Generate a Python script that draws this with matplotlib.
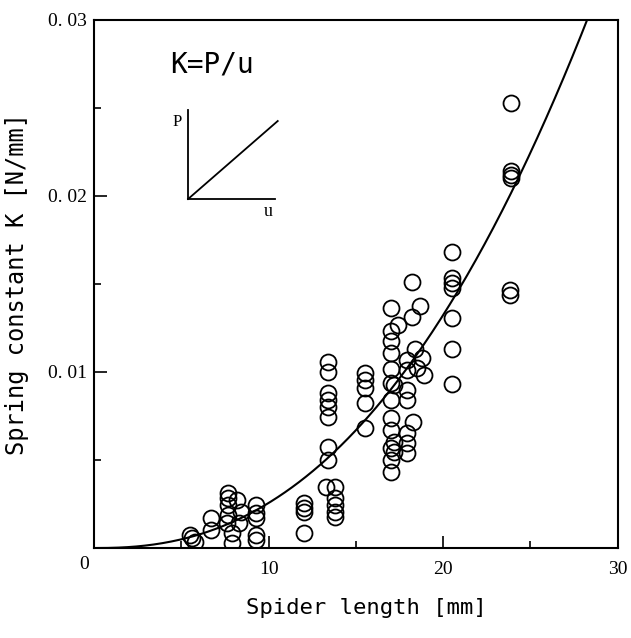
import numpy as np
import matplotlib.pyplot as plt
import matplotlib.transforms as mtransforms
from matplotlib.ticker import MultipleLocator

plt.rcParams['font.family'] = ['DejaVu Sans Mono']

# spider length [mm] and spring constant K [N/mm]
length = [5.5, 5.6, 5.8,
          6.7, 6.7,
          7.7, 7.7, 7.7, 7.7, 7.6, 7.9, 7.9,
          8.2, 8.4, 8.3,
          9.3, 9.3, 9.3, 9.3, 9.3,
          12.0, 12.0, 12.0, 12.0,
          13.4, 13.4, 13.4, 13.4, 13.4, 13.4, 13.4, 13.4,
          13.3, 13.8, 13.8, 13.8, 13.8, 13.8,
          15.5, 15.5, 15.5, 15.5, 15.5,
          17.0, 17.0, 17.0, 17.0, 17.0, 17.0, 17.0, 17.0, 17.0, 17.0, 17.0, 17.0,
          17.4, 17.2, 17.2, 17.2,
          17.9, 17.9, 17.9, 17.9, 17.9, 17.9, 17.9,
          18.2, 18.7, 18.2, 18.4, 18.8, 18.5, 18.9, 18.3,
          20.5, 20.5, 20.5, 20.5, 20.5, 20.5, 20.5,
          23.9, 23.9, 23.9, 23.9, 23.8, 23.8]
spring_k = [0.00074, 0.00055, 0.00036,
            0.00169, 0.00102,
            0.00311, 0.00282, 0.00244, 0.00188, 0.00140, 0.00083, 0.00027,
            0.00273, 0.00206, 0.00140,
            0.00244, 0.00197, 0.00170, 0.00074, 0.00045,
            0.00254, 0.00226, 0.00206, 0.00087,
            0.01059, 0.01002, 0.00879, 0.00841, 0.00803, 0.00746, 0.00576, 0.00500,
            0.00348, 0.00348, 0.00282, 0.00244, 0.00206, 0.00178,
            0.00993, 0.00955, 0.00907, 0.00822, 0.00680,
            0.01364, 0.01231, 0.01174, 0.01108, 0.01014, 0.00940, 0.00841, 0.00739,
            0.00670, 0.00568, 0.00500, 0.00434,
            0.01267, 0.00926, 0.00604, 0.00547,
            0.01068, 0.01011, 0.00898, 0.00841, 0.00652, 0.00595, 0.00538,
            0.01513, 0.01375, 0.01314, 0.01129, 0.01078, 0.01021, 0.00983, 0.00718,
            0.01684, 0.01532, 0.01504, 0.01476, 0.01305, 0.01129, 0.00932,
            0.02530, 0.02140, 0.02120, 0.02100, 0.01466, 0.01438]

# fitted curve K = a * (L/10)^n
fit_a = 0.00256
fit_n = 2.37

xticks = [0, 10, 20, 30]
xtick_labels = ['0', '10', '20', '30']
yticks = [0.01, 0.02, 0.03]
ytick_labels = ['0. 01', '0. 02', '0. 03']

# inset sketch of load P vs displacement u
sketch_u = [0, 1.03]
sketch_p = [0, 0.88]

fig = plt.figure(figsize=(6.31, 6.38), dpi=100)
ax = fig.add_axes([0.149, 0.141, 0.830, 0.828])

ax.plot(length, spring_k, 'o', ms=11.5, mfc='none', mec='black', mew=1.3)
xs = np.linspace(0, 30, 300)
ax.plot(xs, fit_a * (xs / 10) ** fit_n, color='black', lw=1.5)

ax.set_xlim(0, 30)
ax.set_ylim(0, 0.03)
ax.set_xticks(xticks)
ax.set_xticklabels(xtick_labels, fontsize=14, family='Liberation Serif')
ax.set_yticks(yticks)
ax.set_yticklabels(ytick_labels, fontsize=14, family='Liberation Serif')
ax.xaxis.set_minor_locator(MultipleLocator(5))
ax.yaxis.set_minor_locator(MultipleLocator(0.005))
ax.tick_params(which='major', direction='in', length=9, width=1.2)
ax.tick_params(which='minor', direction='in', length=5, width=1.2)
ax.tick_params(axis='x', pad=9)
ax.tick_params(axis='y', pad=5)
for s in ax.spines.values():
    s.set_linewidth(1.5)

# the "0" sits a little left of the origin in the original
lbl0 = ax.get_xticklabels()[0]
lbl0.set_transform(lbl0.get_transform() +
                   mtransforms.ScaledTranslation(-0.1, 0.05, fig.dpi_scale_trans))

ax.set_xlabel('Spider length [mm]', fontsize=16)
ax.xaxis.set_label_coords(0.52, -0.095)
ax.set_ylabel('Spring constant K [N/mm]', fontsize=17)
ax.yaxis.set_label_coords(-0.125, 0.5)

ax.text(0.145, 0.90, 'K=P/u', transform=ax.transAxes, fontsize=20)

ins = fig.add_axes([0.298, 0.688, 0.138, 0.139])
ins.plot(sketch_u, sketch_p, color='black', lw=1.3, clip_on=False)
ins.set_xlim(0, 1)
ins.set_ylim(0, 1)
ins.set_xticks([])
ins.set_yticks([])
ins.spines['top'].set_visible(False)
ins.spines['right'].set_visible(False)
for s in ['left', 'bottom']:
    ins.spines[s].set_linewidth(1.3)
ins.patch.set_alpha(0)
ins.set_ylabel('P', rotation=0, fontsize=12, family='Liberation Serif')
ins.yaxis.set_label_coords(-0.12, 0.78)
ins.set_xlabel('u', fontsize=13, family='Liberation Serif')
ins.xaxis.set_label_coords(0.92, -0.05)

fig.savefig('out.png', dpi=100)
